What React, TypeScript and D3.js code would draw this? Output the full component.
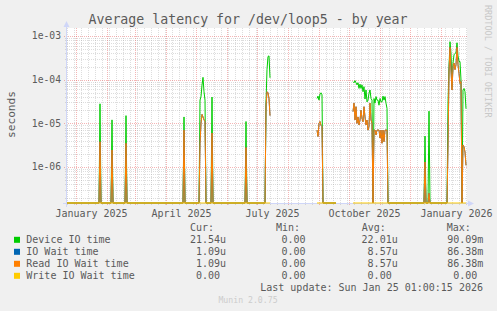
import React from "react";
import * as d3 from "d3";

// ---- data (daily consolidated values, seconds); null = no data ----
const dates: string[] = [
  "2024-12-20", "2025-01-23", "2025-01-24", "2025-01-25", "2025-02-04", "2025-02-05", "2025-02-06",
  "2025-02-18", "2025-02-19", "2025-02-20", "2025-04-17", "2025-04-18", "2025-04-19",
  "2025-05-03", "2025-05-04", "2025-05-05", "2025-05-06", "2025-05-07", "2025-05-08", "2025-05-09", "2025-05-10",
  "2025-05-15", "2025-05-16", "2025-05-17", "2025-06-18", "2025-06-19", "2025-06-20",
  "2025-07-08", "2025-07-09", "2025-07-10", "2025-07-11", "2025-07-12", "2025-07-13", "2025-07-20",
  "2025-08-29", "2025-08-30", "2025-08-31", "2025-09-01", "2025-09-02", "2025-09-03", "2025-09-04", "2025-09-17", "2025-09-25",
  "2025-10-04", "2025-10-05", "2025-10-06", "2025-10-07", "2025-10-08", "2025-10-09", "2025-10-10", "2025-10-11",
  "2025-10-12", "2025-10-13", "2025-10-14", "2025-10-15", "2025-10-16", "2025-10-17", "2025-10-18", "2025-10-19",
  "2025-10-20", "2025-10-21", "2025-10-22", "2025-10-23", "2025-10-24", "2025-10-25", "2025-10-26", "2025-10-27",
  "2025-10-28", "2025-10-29", "2025-10-30", "2025-10-31", "2025-11-01", "2025-11-02", "2025-11-03", "2025-11-04",
  "2025-11-05", "2025-11-06", "2025-11-07", "2025-11-08",
  "2025-12-14", "2025-12-15", "2025-12-16", "2025-12-18", "2025-12-19", "2025-12-20",
  "2026-01-06", "2026-01-07", "2026-01-08", "2026-01-09", "2026-01-10", "2026-01-11", "2026-01-12", "2026-01-13",
  "2026-01-14", "2026-01-15", "2026-01-16", "2026-01-17", "2026-01-18", "2026-01-19", "2026-01-20", "2026-01-21",
  "2026-01-22", "2026-01-23", "2026-01-24", "2026-01-25",
];

const deviceIO: (number | null)[] = [
  0, 0, 2.8e-5, 0, 0, 1.2e-5, 0,
  0, 1.5e-5, 0, 0, 1.4e-5, 0,
  0, 3.4e-5, 4.1e-5, 7.5e-5, 1.13e-4, 5.3e-5, 3.4e-5, 0,
  0, 4.0e-5, 0, 0, 1.1e-5, 0,
  0, 3.0e-5, 1.7e-4, 3.4e-4, 3.5e-4, 1.1e-4, null,
  3.7e-5, 4.2e-5, 3.4e-5, 4.7e-5, 5.0e-5, 4.5e-5, 0, 0, null,
  9.0e-5, 8.5e-5, 9.5e-5, 8.5e-5, 7.6e-5, 8.5e-5, 6.3e-5, 7.9e-5,
  6.3e-5, 7.6e-5, 5.3e-5, 6.9e-5, 3.6e-5, 5.8e-5, 3.1e-5, 3.4e-5,
  4.9e-5, 5.8e-5, 3.7e-5, 3.4e-5, 0, 3.7e-5, 2.9e-5, 4.1e-5,
  3.4e-5, 3.4e-5, 2.6e-5, 3.7e-5, 3.1e-5, 3.1e-5, 4.2e-5, 3.4e-5,
  4.1e-5, 2.9e-5, 2.2e-5, 0,
  0, 5.1e-6, 0, 0, 1.9e-5, 0,
  0, 2.9e-5, 2.0e-4, 7.4e-4, 4.0e-4, 7.0e-5, 2.4e-4, 3.7e-4,
  4.0e-4, 4.2e-4, 7.0e-4, 3.5e-4, 2.6e-4, 2.6e-4, 9.8e-5, 0,
  5.8e-5, 6.3e-5, 5.3e-5, 2.15e-5,
];

const ioWait: (number | null)[] = [
  0, 0, 3.8e-6, 0, 0, 2.45e-6, 0,
  0, 3.5e-6, 0, 0, 7.0e-6, 0,
  0, 3.5e-6, 1.0e-5, 1.6e-5, 1.4e-5, 1.2e-5, 1.1e-5, 0,
  0, 6.0e-6, 0, 0, 2.8e-6, 0,
  0, 2.5e-5, 5.3e-5, 5.0e-5, 3.7e-5, 1.5e-5, null,
  7.0e-6, 5.0e-6, 1.0e-5, 1.1e-5, 9.0e-6, 8.4e-6, 0, 0, null,
  1.85e-5, 2.9e-5, 1.2e-5, 2.4e-5, 1.0e-5, 1.4e-5, 9.2e-6, 1.19e-5,
  2.0e-5, 1.3e-5, 1.09e-5, 2.4e-5, 1.4e-5, 9.2e-6, 1.19e-5, 7.0e-6,
  8.4e-6, 2.9e-5, 1.19e-5, 1.0e-5, 0, 7.0e-6, 7.0e-6, 5.4e-6,
  7.0e-6, 7.0e-6, 7.0e-6, 4.6e-6, 7.0e-6, 3.5e-6, 7.0e-6, 3.8e-6,
  7.0e-6, 7.0e-6, 7.0e-6, 0,
  0, 1.3e-6, 0, 0, 2.5e-7, 0,
  0, 3.0e-6, 1.5e-4, 5.5e-4, 1.66e-4, 5.8e-5, 2.0e-4, 2.4e-4,
  1.7e-4, 2.2e-4, 5.5e-4, 2.2e-4, 1.4e-4, 8.2e-5, 9.0e-5, 0,
  3.2e-6, 2.9e-6, 2.2e-6, 1.09e-6,
];

// Read IO wait equals IO wait on this device
const readIOWait: (number | null)[] = ioWait.slice();
const writeIOWait: (number | null)[] = ioWait.map((v) => (v === null ? null : 0));

const title = "Average latency for /dev/loop5 - by year";
const yAxisLabel = "seconds";
const yTickValues = [1e-6, 1e-5, 1e-4, 1e-3];
const yTickLabels = ["1e-06", "1e-05", "1e-04", "1e-03"];
const xLabelDates = ["2025-01-01", "2025-04-01", "2025-07-01", "2025-10-01", "2026-01-01"];
const xLabels = ["January 2025", "April 2025", "July 2025", "October 2025", "January 2026"];

const legendNames = ["Device IO time", "IO Wait time", "Read IO Wait time", "Write IO Wait time"];
const seriesColors = ["#00cc00", "#0066b3", "#ff8000", "#ffcc00"];
const curValues = ["21.54u", "1.09u", "1.09u", "0.00"];
const minValues = ["0.00", "0.00", "0.00", "0.00"];
const avgValues = ["22.01u", "8.57u", "8.57u", "0.00"];
const maxValues = ["90.09m", "86.38m", "86.38m", "0.00"];
const lastUpdate = "Last update: Sun Jan 25 01:00:15 2026";
const footer = "Munin 2.0.75";
const watermark = "RRDTOOL / TOBI OETIKER";

const FONT = "'DejaVu Sans Mono', 'Liberation Mono', monospace";

export default function App() {
  const W = 497, H = 311;
  const left = 67, right = 467, top = 28, bottom = 203;
  const parse = d3.utcParse("%Y-%m-%d");

  const x = d3
    .scaleUtc()
    .domain([new Date(Date.UTC(2024, 11, 22, 12)), new Date(Date.UTC(2026, 0, 26, 12))])
    .range([left, right]);
  const y = d3
    .scaleLog()
    .domain([Math.pow(10, -6.8244), Math.pow(10, -2.8168)])
    .range([bottom, top]);
  const yMin = y.domain()[0];

  // each daily value is plotted at the middle of its day
  const times = dates.map((s) => d3.utcHour.offset(parse(s) as Date, 12));

  const path = (vals: (number | null)[]) =>
    d3
      .line<number>()
      .defined((i) => vals[i] !== null)
      .x((i) => x(times[i]))
      .y((i) => y(Math.max(vals[i] as number, yMin)))(d3.range(vals.length)) || "";

  const [d0, d1] = x.domain();
  const months = d3.utcMonth.range(d0, d1);
  const monthSet = new Set(months.map((m) => +m));
  const weeks = d3.utcMonday.range(d0, d1).filter((w) => !monthSet.has(+w));

  const minorY: number[] = [];
  for (let e = -7; e <= -3; e++) {
    for (let k = 2; k <= 9; k++) {
      const v = k * Math.pow(10, e);
      if (v > y.domain()[0] && v < y.domain()[1]) minorY.push(v);
    }
  }
  const ry = (v: number) => Math.round(y(v)) + 0.5;
  const rx = (d: Date) => Math.round(x(d) - 0.5) + 0.5;

  const minorColor = "rgba(150,150,150,0.32)";
  const majorColor = "rgba(230,90,90,0.45)";
  const axisColor = "#cfd6f8";
  const textColor = "#5a5a5a";

  const rowBase = [243.3, 255.3, 267.3, 279.3];
  const colEnds = [220, 305.5, 391.7, 477.3];
  const headers = ["Cur:", "Min:", "Avg:", "Max:"];
  const headerX = [190, 276, 361.7, 446.7];
  const cols = [curValues, minValues, avgValues, maxValues];

  const splitVal = (s: string) => {
    const m = s.match(/^([-\d.]+)([a-zA-Z]?)$/);
    return m ? [m[1], m[2]] : [s, ""];
  };

  const series = [
    { vals: deviceIO, color: seriesColors[0] },
    { vals: ioWait, color: seriesColors[1] },
    { vals: readIOWait, color: seriesColors[2] },
    { vals: writeIOWait, color: seriesColors[3] },
  ];

  return (
    <svg
      width={W}
      height={H}
      style={{ position: "absolute", left: 0, top: 0, display: "block" }}
      fontFamily={FONT}
    >
      <defs>
        <clipPath id="plotclip">
          <rect x={left} y={top} width={right - left} height={bottom - top + 1} />
        </clipPath>
      </defs>
      <rect x={0} y={0} width={W} height={H} fill="#f0f0f0" />
      <rect x={left} y={top} width={right - left} height={bottom - top} fill="#ffffff" />

      {/* minor grid */}
      {minorY.map((v, i) => (
        <line key={"my" + i} x1={left - 2} x2={right} y1={ry(v)} y2={ry(v)} stroke={minorColor} strokeDasharray="1,1" />
      ))}
      {weeks.map((w, i) => (
        <line key={"mx" + i} x1={rx(w)} x2={rx(w)} y1={top} y2={bottom + 2} stroke={minorColor} strokeDasharray="1,1" />
      ))}
      {/* major grid */}
      {yTickValues.map((v, i) => (
        <line key={"My" + i} x1={left - 3} x2={right} y1={ry(v)} y2={ry(v)} stroke={majorColor} strokeDasharray="1,1" />
      ))}
      {months.map((m, i) => (
        <line key={"Mx" + i} x1={rx(m)} x2={rx(m)} y1={top} y2={bottom + 3} stroke={majorColor} strokeDasharray="1,1" />
      ))}

      {/* axes */}
      <line x1={left - 4} x2={right + 3} y1={bottom + 0.5} y2={bottom + 0.5} stroke={axisColor} />
      <line x1={left - 0.5} x2={left - 0.5} y1={bottom + 4} y2={top - 3} stroke={axisColor} />
      <polygon points={`${right + 1},${bottom - 2.5} ${right + 1},${bottom + 3.5} ${right + 7},${bottom + 0.5}`} fill={axisColor} />
      <polygon points={`${left - 3.5},${top - 1} ${left + 2.5},${top - 1} ${left - 0.5},${top - 7}`} fill={axisColor} />

      {/* data */}
      <g clipPath="url(#plotclip)">
        {series.map((s, i) => (
          <path key={"s" + i} d={path(s.vals)} fill="none" stroke={s.color} strokeWidth={1} />
        ))}
      </g>

      {/* y tick labels */}
      {yTickValues.map((v, i) => (
        <text key={"yl" + i} x={61} y={y(v)} dy="0.36em" textAnchor="end" fontSize={9.7} fill={textColor}>
          {yTickLabels[i]}
        </text>
      ))}
      {/* x labels, centred mid-month */}
      {xLabelDates.map((s, i) => (
        <text
          key={"xl" + i}
          x={x(d3.utcDay.offset(parse(s) as Date, 15))}
          y={216.5}
          textAnchor="middle"
          fontSize={10}
          fill={textColor}
        >
          {xLabels[i]}
        </text>
      ))}

      {/* title */}
      <text x={248} y={24.3} textAnchor="middle" fontSize={13.25} fill={textColor}>
        {title}
      </text>
      {/* y axis label */}
      <text transform="translate(15,114.5) rotate(-90)" textAnchor="middle" fontSize={11.2} fill={textColor}>
        {yAxisLabel}
      </text>
      {/* watermark */}
      <text transform="translate(485,5) rotate(90)" fontSize={8.5} fill="#c8c8c8">
        {watermark}
      </text>

      {/* legend */}
      {headers.map((h, i) => (
        <text key={"h" + i} x={headerX[i]} y={231.3} fontSize={10} fill={textColor}>
          {h}
        </text>
      ))}
      {legendNames.map((n, r) => (
        <g key={"lg" + r}>
          <rect x={14} y={rowBase[r] - 6.5} width={6} height={6} fill={seriesColors[r]} />
          <text x={26.3} y={rowBase[r]} fontSize={10} fill={textColor}>
            {n}
          </text>
          {cols.map((c, ci) => {
            const [num, unit] = splitVal(c[r]);
            return (
              <g key={"v" + ci}>
                <text x={colEnds[ci]} y={rowBase[r]} textAnchor="end" fontSize={10} fill={textColor}>
                  {num}
                </text>
                {unit && (
                  <text x={colEnds[ci]} y={rowBase[r]} fontSize={10} fill={textColor}>
                    {unit}
                  </text>
                )}
              </g>
            );
          })}
        </g>
      ))}
      <text x={483} y={291.3} textAnchor="end" fontSize={10} fill={textColor}>
        {lastUpdate}
      </text>
      <text x={248} y={303} textAnchor="middle" fontSize={8.2} fill="#cccccc">
        {footer}
      </text>
    </svg>
  );
}
